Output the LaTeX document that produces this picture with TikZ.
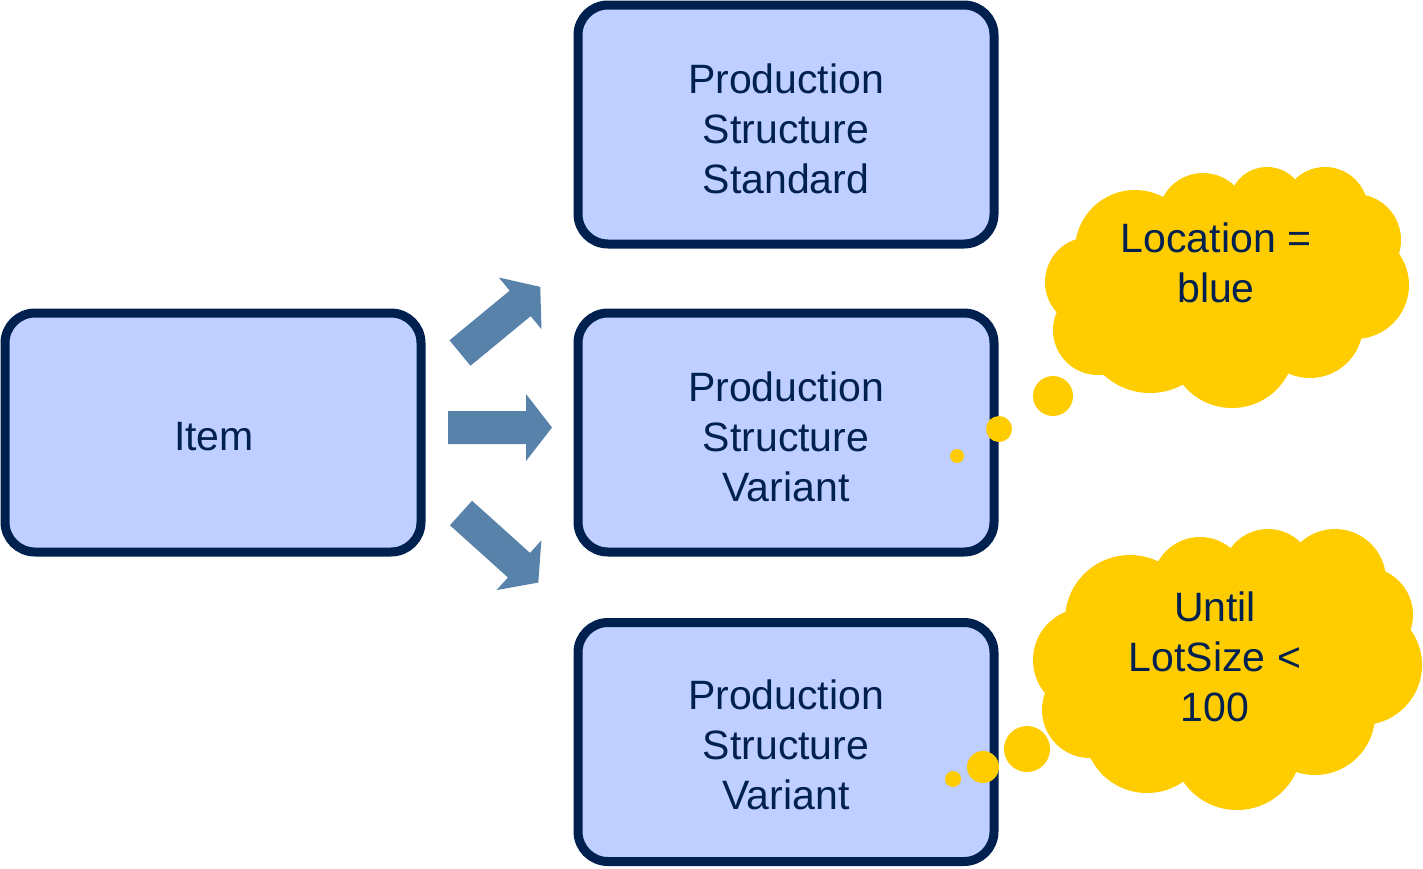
\documentclass[tikz,border=0pt]{standalone}
\usepackage{fontspec}
\setmainfont{Liberation Sans}
\definecolor{boxfill}{RGB}{191,207,255}
\definecolor{navy}{RGB}{0,32,80}
\definecolor{arrowc}{RGB}{88,130,170}
\definecolor{cloudc}{RGB}{255,204,0}
\tikzset{
  box/.style={draw=navy, line width=9pt, fill=boxfill, rounded corners=30pt,
    minimum width=416pt, minimum height=239pt, inner sep=0pt},
  txt/.style={text=navy, font=\fontsize{41}{50}\selectfont, align=center, inner sep=0pt},
  blockarrow/.style={fill=arrowc},
  puff/.style={fill=cloudc}
}
\begin{document}
\begin{tikzpicture}[x=1pt,y=-1pt]
\useasboundingbox (0,0) rectangle (1423,868);
% boxes
\node[box] (item) at (213,432.5) {};
\node[box] (std) at (786,124.5) {};
\node[box] (var1) at (786,432.5) {};
\node[box] (var2) at (786,742) {};
% texts
\node[txt] (titem) at (214,437) {Item};
\node[txt] (tstd) at (786,129) {Production\\Structure\\Standard};
\node[txt] (tvar1) at (786,437) {Production\\Structure\\Variant};
\node[txt] (tvar2) at (786,745) {Production\\Structure\\Variant};
% block arrows
\coordinate (a1) at (460,353);
\coordinate (a2) at (448,427.5);
\coordinate (a3) at (461,513);
\foreach \c/\r in {a1/39.5, a2/0, a3/-42}{
  \begin{scope}[shift={(\c)}, rotate=\r]
    \fill[blockarrow] (0,16.5) -- (78,16.5) -- (78,33.5) -- (104,0) -- (78,-33.5) -- (78,-16.5) -- (0,-16.5) -- cycle;
  \end{scope}
}
% cloud 1
\fill[puff] (1230,285) ellipse[x radius=130, y radius=80];
\foreach \x/\y/\r in {1135/250/60, 1203/218/45, 1267/205/38, 1325/210/43, 1355/240/46,
  1355/285/54, 1310/325/53, 1232/345/63, 1150/325/68, 1098/330/45, 1090/282/45}{
  \fill[puff] (\x,\y) circle[radius=\r];
}
\fill[puff] (1053,396) circle[radius=20];
\fill[puff] (999,429) circle[radius=13];
\fill[puff] (957,456) circle[radius=7];
\node[txt] (c1) at (1216,263) {Location =\\blue};
% cloud 2
\fill[puff] (1230,670) ellipse[x radius=140, y radius=95];
\foreach \x/\y/\r in {1130/620/65, 1200/585/48, 1268/575/46, 1335/580/51, 1365/615/48,
  1362/665/60, 1315/715/60, 1237/745/65, 1147/730/63, 1090/710/48, 1085/660/52}{
  \fill[puff] (\x,\y) circle[radius=\r];
}
\fill[puff] (1027,749) circle[radius=23];
\fill[puff] (983,767) circle[radius=16];
\fill[puff] (953,779) circle[radius=8];
\node[txt] (c2) at (1215,657) {Until\\LotSize <\\100};
\end{tikzpicture}
\end{document}
